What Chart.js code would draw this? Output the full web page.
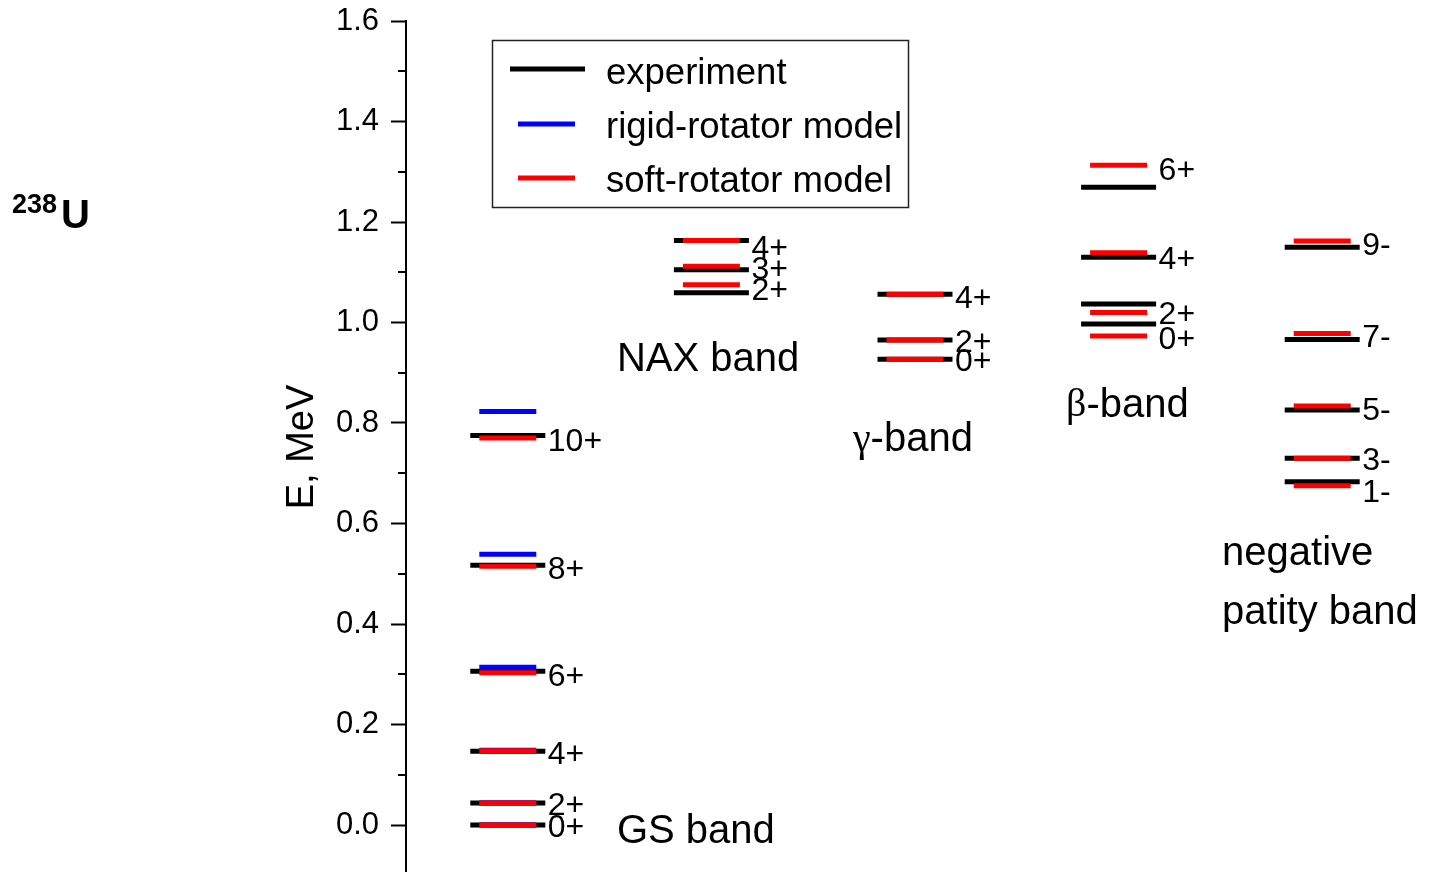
<!DOCTYPE html>
<html lang="en">
<head>
  <meta charset="UTF-8">
  <title>238U level scheme</title>
  <script src="https://cdn.jsdelivr.net/npm/chart.js"></script>
  <style>
    body { margin: 0; background: #fff; }
    #chart { display: block; }
  </style>
</head>
<body>
<canvas id="chart" width="1435" height="872"></canvas>
<script>
  // band columns (x index 0..4)
  const bands = ['GS', 'NAX', 'gamma', 'beta', 'negative'];

  // level energies, MeV
  const expGS   = [0, 0.044, 0.147, 0.306, 0.517, 0.775];
  const softGS  = [0, 0.044, 0.148, 0.303, 0.515, 0.770];
  const rigidGS = [0, 0.044, 0.149, 0.314, 0.539, 0.823];
  const spinGS  = ['0+', '2+', '4+', '6+', '8+', '10+'];
  const labGS   = [-0.003, 0.042, 0.143, 0.299, 0.511, 0.766];

  const expNAX  = [1.059, 1.105, 1.163];
  const softNAX = [1.075, 1.112, 1.163];
  const spinNAX = ['2+', '3+', '4+'];
  const labNAX  = [1.066, 1.108, 1.150];

  const expGam  = [0.927, 0.965, 1.056];
  const softGam = [0.927, 0.965, 1.056];
  const spinGam = ['0+', '2+', '4+'];
  const labGam  = [0.925, 0.963, 1.050];

  const expBeta  = [0.997, 1.037, 1.130, 1.269];
  const softBeta = [0.973, 1.020, 1.139, 1.313];
  const spinBeta = ['0+', '2+', '4+', '6+'];
  const labBeta  = [0.969, 1.019, 1.129, 1.305];

  const expNeg  = [0.683, 0.730, 0.826, 0.966, 1.150];
  const softNeg = [0.675, 0.730, 0.834, 0.978, 1.162];
  const spinNeg = ['1-', '3-', '5-', '7-', '9-'];
  const labNeg  = [0.665, 0.728, 0.828, 0.973, 1.156];

  // band titles: text, x (band units), energy
  const titleText = ['GS band', 'NAX band', 'γ-band', 'β-band', 'negative', 'patity band'];
  const titleX    = [0.536, 0.536, 1.695, 2.742, 3.508, 3.508];
  const titleE    = [-0.008, 0.931, 0.772, 0.840, 0.545, 0.428];

  const yTicks = [0, 0.2, 0.4, 0.6, 0.8, 1.0, 1.2, 1.4, 1.6];
  const yMinor = [0.1, 0.3, 0.5, 0.7, 0.9, 1.1, 1.3, 1.5];

  const FONT = "'Liberation Sans', Arial, sans-serif";

  function pts(x, arr) { return arr.map(y => ({ x: x, y: y })); }

  const expData = [].concat(pts(0, expGS), pts(1, expNAX), pts(2, expGam), pts(3, expBeta), pts(4, expNeg));
  const softData = [].concat(pts(0, softGS), pts(1, softNAX), pts(2, softGam), pts(3, softBeta), pts(4, softNeg));
  const rigidData = pts(0, rigidGS);

  const spinSets = [
    [spinGS, labGS], [spinNAX, labNAX], [spinGam, labGam], [spinBeta, labBeta], [spinNeg, labNeg]
  ];

  // spin labels, band titles, legend, minor ticks, axis title
  const decorations = {
    id: 'decorations',
    afterDraw(chart) {
      const ctx = chart.ctx;
      const xs = chart.scales.x, ys = chart.scales.y;
      ctx.save();
      ctx.fillStyle = '#000';

      // minor ticks
      ctx.strokeStyle = '#000';
      ctx.lineWidth = 2;
      const ax = chart.chartArea.left;
      yMinor.forEach(v => {
        const py = Math.round(ys.getPixelForValue(v));
        ctx.beginPath();
        ctx.moveTo(ax - 8, py);
        ctx.lineTo(ax, py);
        ctx.stroke();
      });

      // spin labels right of each level
      ctx.font = '32px ' + FONT;
      ctx.textAlign = 'left';
      ctx.textBaseline = 'middle';
      spinSets.forEach((s, i) => {
        const px = xs.getPixelForValue(i) + 40;
        s[0].forEach((t, k) => {
          ctx.fillText(t, px, ys.getPixelForValue(s[1][k]) + 2);
        });
      });

      // band titles
      ctx.font = '40px ' + FONT;
      titleText.forEach((t, i) => {
        let px = xs.getPixelForValue(titleX[i]);
        const py = ys.getPixelForValue(titleE[i]) + 3;
        const g = t.charAt(0);
        if (g === 'γ' || g === 'β') {
          ctx.font = "40px 'Liberation Serif', serif";
          ctx.fillText(g, px, py);
          px += ctx.measureText(g).width;
          ctx.font = '40px ' + FONT;
          ctx.fillText(t.slice(1), px, py);
        } else {
          ctx.fillText(t, px, py);
        }
      });

      // y axis title
      ctx.save();
      ctx.translate(303, 447);
      ctx.rotate(-Math.PI / 2);
      ctx.textAlign = 'center';
      ctx.font = '38px ' + FONT;
      ctx.fillText('E, MeV', 0, 0);
      ctx.restore();

      // nucleus label
      ctx.textBaseline = 'alphabetic';
      ctx.font = 'bold 27px ' + FONT;
      ctx.fillText('238', 12, 213);
      ctx.font = 'bold 40px ' + FONT;
      ctx.fillText('U', 61, 228);

      // legend box
      ctx.lineWidth = 1.5;
      ctx.strokeStyle = '#222';
      ctx.strokeRect(492.5, 40.5, 416, 167);
      const ds = chart.data.datasets;
      const rows = [
        { d: ds[0], x0: 510, x1: 585, y: 69, base: 84 },
        { d: ds[1], x0: 518, x1: 575, y: 124, base: 138 },
        { d: ds[2], x0: 518, x1: 575, y: 178, base: 192 }
      ];
      ctx.font = '36.5px ' + FONT;
      rows.forEach(r => {
        ctx.strokeStyle = r.d.borderColor;
        ctx.lineWidth = 5;
        ctx.beginPath();
        ctx.moveTo(r.x0, r.y);
        ctx.lineTo(r.x1, r.y);
        ctx.stroke();
        ctx.fillStyle = '#000';
        ctx.fillText(r.d.label, 606, r.base);
      });
      ctx.restore();
    }
  };

  const levelStyle = {
    showLine: false,
    pointStyle: 'line',
    pointRotation: 0
  };

  new Chart(document.getElementById('chart'), {
    type: 'scatter',
    data: {
      datasets: [
        Object.assign({ label: 'experiment', data: expData, borderColor: '#000', backgroundColor: '#000',
          pointRadius: 37.5, pointBorderWidth: 5, order: 3 }, levelStyle),
        Object.assign({ label: 'rigid-rotator model', data: rigidData, borderColor: '#0000ff', backgroundColor: '#0000ff',
          pointRadius: 28.5, pointBorderWidth: 5, order: 2 }, levelStyle),
        Object.assign({ label: 'soft-rotator model', data: softData, borderColor: '#ff0000', backgroundColor: '#ff0000',
          pointRadius: 28.5, pointBorderWidth: 5, order: 1 }, levelStyle)
      ]
    },
    options: {
      responsive: false,
      animation: false,
      events: [],
      devicePixelRatio: 1,
      layout: { autoPadding: false, padding: { top: 21, left: 0, right: 11, bottom: 0 } },
      plugins: {
        legend: { display: false },
        tooltip: { enabled: false }
      },
      scales: {
        x: {
          type: 'linear',
          display: false,
          min: -0.5,
          max: bands.length - 0.5
        },
        y: {
          type: 'linear',
          min: -47 / 502.5,
          max: 1.6,
          afterFit(scale) {
            scale.width = 406;
            scale.paddingTop = 0;
            scale.paddingBottom = 0;
          },
          afterBuildTicks(scale) { scale.ticks = yTicks.map(v => ({ value: v })); },
          border: { display: true, color: '#000', width: 2 },
          grid: { drawOnChartArea: false, drawTicks: true, tickLength: 15, tickColor: '#000', tickWidth: 2 },
          ticks: {
            color: '#000',
            padding: 12,
            font: { family: FONT, size: 31 },
            callback: v => v.toFixed(1)
          }
        }
      }
    },
    plugins: [decorations]
  });
</script>
</body>
</html>
